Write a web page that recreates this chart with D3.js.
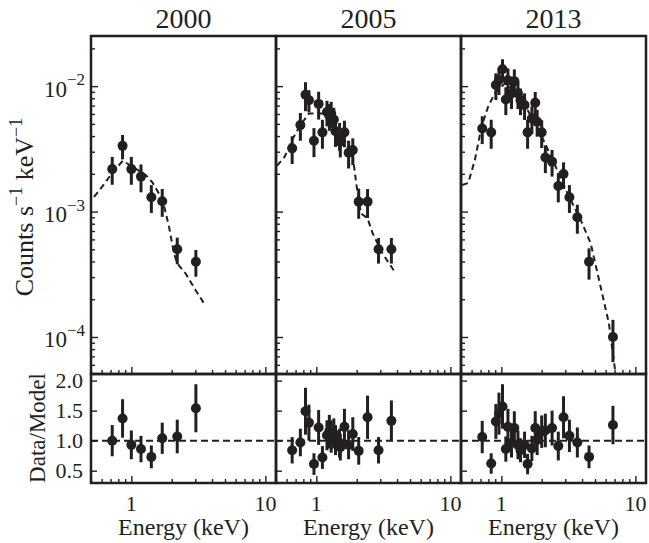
<!DOCTYPE html>
<html>
<head>
<meta charset="utf-8">
<script src="https://cdn.jsdelivr.net/npm/d3@7"></script>
<style>
  body { margin: 0; background: #fff; }
  text { font-family: "Liberation Serif", "DejaVu Serif", serif; fill: #231f20; }
</style>
</head>
<body>
<div id="chart"></div>
<script>
// Set up SVG dimensions
const w = 649;
const h = 543;
const margin = {top: 36, left: 91};
const panelW = 185;
const upperBottom = 374;
const lowerBottom = 483;
const ink = "#231f20";

const years = ["2000", "2005", "2013"];

// 2000: data points (energy keV, counts, relative error), ratio, model curve
const e2000 = [0.72, 0.86, 1.0, 1.18, 1.41, 1.70, 2.20, 3.03];
const c2000 = [2.18e-3, 3.34e-3, 2.18e-3, 1.90e-3, 1.30e-3, 1.21e-3, 5.0e-4, 3.98e-4];
const ce2000 = [0.25, 0.22, 0.25, 0.25, 0.25, 0.25, 0.24, 0.24];
const r2000 = [1.0, 1.37, 0.93, 0.86, 0.73, 1.04, 1.07, 1.54];
const re2000 = [0.26, 0.32, 0.24, 0.22, 0.19, 0.26, 0.28, 0.40];
const me2000 = [0.526, 0.579, 0.70, 0.862, 1.0, 1.285, 1.44, 1.71, 1.91, 2.08, 2.2, 2.54, 3.01, 3.51];
const m2000 = [1.31e-3, 1.48e-3, 1.95e-3, 2.54e-3, 2.31e-3, 1.95e-3, 1.70e-3, 1.24e-3, 7.57e-4, 4.65e-4, 3.86e-4, 3.21e-4, 2.37e-4, 1.83e-4];

// 2005
const e2005 = [0.66, 0.76, 0.83, 0.88, 0.96, 1.04, 1.11, 1.20, 1.25, 1.29, 1.35, 1.39, 1.49, 1.51, 1.62, 1.74, 1.87, 2.07, 2.41, 2.91, 3.63];
const c2005 = [3.19e-3, 4.89e-3, 8.53e-3, 7.73e-3, 3.67e-3, 7.22e-3, 4.28e-3, 6.21e-3, 5.80e-3, 6.05e-3, 5.42e-3, 4.37e-3, 4.07e-3, 3.60e-3, 4.28e-3, 2.94e-3, 3.09e-3, 1.20e-3, 1.20e-3, 5.0e-4, 5.0e-4];
const ce2005 = [0.25, 0.25, 0.26, 0.20, 0.26, 0.25, 0.26, 0.23, 0.24, 0.24, 0.24, 0.25, 0.25, 0.25, 0.24, 0.25, 0.24, 0.27, 0.26, 0.23, 0.23];
const r2005 = [0.84, 0.97, 1.49, 1.30, 0.61, 1.22, 0.72, 1.09, 1.15, 1.07, 1.12, 1.01, 0.96, 0.89, 1.23, 0.93, 1.11, 0.83, 1.39, 0.84, 1.33];
const re2005 = [0.22, 0.23, 0.39, 0.30, 0.18, 0.29, 0.19, 0.25, 0.28, 0.27, 0.25, 0.25, 0.24, 0.22, 0.30, 0.24, 0.28, 0.23, 0.36, 0.22, 0.34];
const me2005 = [0.51, 0.58, 0.66, 0.76, 0.88, 1.0, 1.29, 1.41, 1.67, 1.87, 2.0, 2.15, 2.41, 2.63, 3.11, 3.91];
const m2005 = [2.32e-3, 2.74e-3, 3.73e-3, 4.89e-3, 6.05e-3, 6.05e-3, 6.05e-3, 4.89e-3, 3.49e-3, 2.74e-3, 1.58e-3, 9.68e-4, 8.83e-4, 6.71e-4, 4.65e-4, 3.22e-4];

// 2013
const e2013 = [0.72, 0.84, 0.91, 0.96, 1.02, 1.08, 1.12, 1.19, 1.25, 1.33, 1.39, 1.49, 1.57, 1.69, 1.79, 1.85, 2.0, 2.13, 2.39, 2.66, 2.91, 3.22, 3.69, 4.51, 6.8];
const c2013 = [4.60e-3, 4.28e-3, 1.02e-2, 1.117e-2, 1.365e-2, 7.83e-3, 1.117e-2, 8.75e-3, 1.096e-2, 8.75e-3, 7.73e-3, 7.06e-3, 4.28e-3, 5.53e-3, 7.36e-3, 5.20e-3, 4.28e-3, 2.70e-3, 2.50e-3, 1.60e-3, 1.99e-3, 1.30e-3, 9.0e-4, 3.98e-4, 1.0e-4];
const ce2013 = [0.25, 0.26, 0.24, 0.24, 0.20, 0.25, 0.24, 0.25, 0.24, 0.25, 0.24, 0.24, 0.26, 0.25, 0.22, 0.24, 0.25, 0.25, 0.24, 0.26, 0.24, 0.25, 0.26, 0.28, 0.37];
const r2013 = [1.06, 0.62, 1.32, 1.45, 1.57, 0.86, 1.23, 0.96, 1.21, 0.93, 0.84, 0.93, 0.61, 0.87, 1.21, 1.01, 1.15, 1.17, 1.21, 0.91, 1.39, 1.08, 0.97, 0.73, 1.26];
const re2013 = [0.27, 0.17, 0.29, 0.35, 0.37, 0.21, 0.30, 0.24, 0.28, 0.24, 0.20, 0.22, 0.17, 0.21, 0.28, 0.25, 0.27, 0.28, 0.29, 0.24, 0.35, 0.27, 0.25, 0.19, 0.32];
const me2013 = [0.51, 0.566, 0.634, 0.711, 0.796, 0.892, 1.06, 1.33, 1.57, 1.98, 2.48, 3.11, 3.91, 4.64, 5.5, 6.34, 7.11];
const m2013 = [1.63e-3, 1.69e-3, 2.57e-3, 4.74e-3, 6.84e-3, 8.75e-3, 1.05e-2, 8.75e-3, 6.44e-3, 4.07e-3, 2.42e-3, 1.40e-3, 8.55e-4, 5.58e-4, 2.52e-4, 1.29e-4, 5.13e-5];

const yMajor = [1e-4, 1e-3, 1e-2];
const yExp = ["\u22124", "\u22123", "\u22122"];
const rMajor = [0.5, 1.0, 1.5, 2.0];
const xMajor = [1, 10];

const panels = [
  {e: e2000, c: c2000, ce: ce2000, r: r2000, re: re2000, me: me2000, m: m2000},
  {e: e2005, c: c2005, ce: ce2005, r: r2005, re: re2005, me: me2005, m: m2005},
  {e: e2013, c: c2013, ce: ce2013, r: r2013, re: re2013, me: me2013, m: m2013}
];

const svg = d3.select("#chart")
  .append("svg")
  .attr("width", w)
  .attr("height", h)
  .style("background-color", "white");

const y = d3.scaleLog()
  .domain([5.07e-5, 0.0251])
  .range([upperBottom, margin.top]);

const yr = d3.scaleLinear()
  .domain([0.295, 2.11])
  .range([lowerBottom, upperBottom]);

const yMinor = y.ticks().filter(v => !yMajor.some(m => Math.abs(m - v) / m < 1e-6));

panels.forEach((p, i) => {
  const x0 = margin.left + i * panelW;
  const x = d3.scaleLog().domain([0.5, 12]).range([x0, x0 + panelW]);
  const xMinor = x.ticks().filter(v => v !== 1 && v !== 10);
  const g = svg.append("g");

  // clip for the model curve
  const clipId = "clip" + i;
  svg.append("clipPath").attr("id", clipId)
    .append("rect")
    .attr("x", x0).attr("y", margin.top)
    .attr("width", panelW).attr("height", upperBottom - margin.top);

  // ticks (inward)
  const tick = (axis, tr) => {
    const a = g.append("g").attr("transform", tr).call(axis);
    a.select(".domain").remove();
    a.selectAll("line").attr("stroke", ink).attr("stroke-width", 1.4);
  };
  tick(d3.axisLeft(y).tickValues(yMajor).tickSize(-7).tickFormat(""), `translate(${x0},0)`);
  tick(d3.axisLeft(y).tickValues(yMinor).tickSize(-4).tickFormat(""), `translate(${x0},0)`);
  tick(d3.axisBottom(x).tickValues(xMajor).tickSize(-7).tickFormat(""), `translate(0,${upperBottom})`);
  tick(d3.axisBottom(x).tickValues(xMinor).tickSize(-4).tickFormat(""), `translate(0,${upperBottom})`);
  tick(d3.axisLeft(yr).tickValues(rMajor).tickSize(-6).tickFormat(""), `translate(${x0},0)`);
  tick(d3.axisBottom(x).tickValues(xMajor).tickSize(-7).tickFormat(""), `translate(0,${lowerBottom})`);
  tick(d3.axisBottom(x).tickValues(xMinor).tickSize(-4).tickFormat(""), `translate(0,${lowerBottom})`);

  // model curve
  const line = d3.line().x(d => x(d[0])).y(d => y(d[1]));
  g.append("path")
    .datum(p.me.map((e, k) => [e, p.m[k]]))
    .attr("clip-path", `url(#${clipId})`)
    .attr("d", line)
    .attr("fill", "none")
    .attr("stroke", ink)
    .attr("stroke-width", 2)
    .attr("stroke-dasharray", "6,4");

  // unity line in ratio panel
  g.append("line")
    .attr("x1", x0).attr("x2", x0 + panelW)
    .attr("y1", yr(1)).attr("y2", yr(1))
    .attr("stroke", ink)
    .attr("stroke-width", 2)
    .attr("stroke-dasharray", "7,4");

  const idx = d3.range(p.e.length);

  // spectrum error bars + points
  g.selectAll(".errU").data(idx).enter().append("line")
    .attr("x1", k => x(p.e[k])).attr("x2", k => x(p.e[k]))
    .attr("y1", k => y(p.c[k] * (1 - p.ce[k])))
    .attr("y2", k => y(p.c[k] * (1 + p.ce[k])))
    .attr("stroke", ink).attr("stroke-width", 3);
  g.selectAll(".ptU").data(idx).enter().append("circle")
    .attr("cx", k => x(p.e[k]))
    .attr("cy", k => y(p.c[k]))
    .attr("r", 5)
    .attr("fill", ink);

  // ratio error bars + points
  g.selectAll(".errL").data(idx).enter().append("line")
    .attr("x1", k => x(p.e[k])).attr("x2", k => x(p.e[k]))
    .attr("y1", k => yr(p.r[k] - p.re[k]))
    .attr("y2", k => yr(p.r[k] + p.re[k]))
    .attr("stroke", ink).attr("stroke-width", 3);
  g.selectAll(".ptL").data(idx).enter().append("circle")
    .attr("cx", k => x(p.e[k]))
    .attr("cy", k => yr(p.r[k]))
    .attr("r", 5)
    .attr("fill", ink);

  // frames
  g.append("rect")
    .attr("x", x0).attr("y", margin.top)
    .attr("width", panelW).attr("height", upperBottom - margin.top)
    .attr("fill", "none").attr("stroke", ink).attr("stroke-width", 2.5);
  g.append("rect")
    .attr("x", x0).attr("y", upperBottom)
    .attr("width", panelW).attr("height", lowerBottom - upperBottom)
    .attr("fill", "none").attr("stroke", ink).attr("stroke-width", 2.5);

  // x tick labels
  g.selectAll(".xlab").data(xMajor).enter().append("text")
    .attr("x", d => x(d))
    .attr("y", 511)
    .attr("text-anchor", "middle")
    .attr("font-size", 22)
    .text(d => d);

  // panel title and x label
  g.append("text")
    .attr("x", x0 + panelW / 2).attr("y", 28)
    .attr("text-anchor", "middle")
    .attr("font-size", 28)
    .text(years[i]);
  g.append("text")
    .attr("x", x0 + panelW / 2).attr("y", 535)
    .attr("text-anchor", "middle")
    .attr("font-size", 24)
    .text("Energy (keV)");
});

// y tick labels (first panel only)
const ylab = svg.selectAll(".ylab").data(yMajor).enter().append("text")
  .attr("x", 85)
  .attr("y", d => y(d) + 10.5)
  .attr("text-anchor", "end")
  .attr("font-size", 23);
ylab.append("tspan").text("10");
ylab.append("tspan").attr("dy", -11.5).attr("font-size", 17).text((d, k) => yExp[k]);

svg.selectAll(".rlab").data(rMajor).enter().append("text")
  .attr("x", 83)
  .attr("y", d => yr(d) + 7.5)
  .attr("text-anchor", "end")
  .attr("font-size", 22)
  .text(d => d.toFixed(1));

// axis titles
const ytitle = svg.append("text")
  .attr("transform", "translate(33,207) rotate(-90)")
  .attr("text-anchor", "middle")
  .attr("font-size", 26);
ytitle.append("tspan").text("Counts s");
ytitle.append("tspan").attr("dy", -11).attr("font-size", 18).text("\u22121");
ytitle.append("tspan").attr("dy", 11).text(" keV");
ytitle.append("tspan").attr("dy", -11).attr("font-size", 18).text("\u22121");

svg.append("text")
  .attr("transform", "translate(45,428) rotate(-90)")
  .attr("text-anchor", "middle")
  .attr("font-size", 23)
  .text("Data/Model");
</script>
</body>
</html>
